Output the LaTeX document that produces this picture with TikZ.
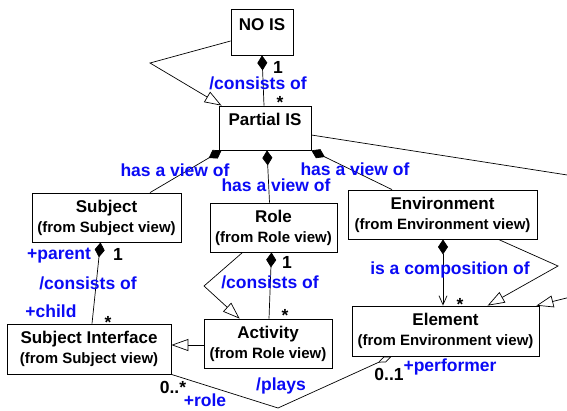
\documentclass[tikz,border=0pt]{standalone}
\usepackage{fontspec}
\setmainfont{Liberation Sans}
\usetikzlibrary{arrows.meta,calc}

\newcommand\ttlf{\fontsize{17}{20}\selectfont\bfseries}
\newcommand\subf{\fontsize{15}{20}\selectfont\bfseries}
\newcommand\lblf{\fontsize{17.5}{20}\selectfont\bfseries}
% asterisk multiplicity with a box hugging the glyph
\newcommand\mstar{\raisebox{-7.5pt}[5pt][0pt]{*}}
\definecolor{rolblue}{RGB}{10,10,245}

\begin{document}
\begin{tikzpicture}[x=1pt,y=-1pt,
  box/.style={draw, line width=0.8pt, inner sep=0pt, align=center, font=\subf},
  lbl/.style={text=rolblue, font=\lblf, inner sep=0pt},
  mult/.style={font=\lblf, inner sep=0pt},
  conn/.style={line width=0.7pt},
  comp/.style={conn, {Diamond[length=15pt,width=10pt]}-},
  compnav/.style={conn, {Diamond[length=15pt,width=10pt]}-{Straight Barb[length=9pt,width=8pt]}},
  gen/.style={conn, -{Triangle[open,length=17pt,width=12pt]}},
  agg/.style={conn, -{Diamond[open,length=15pt,width=6pt]}}]

\clip (0,0) rectangle (567,410);

% classes
\node[box, minimum width=62pt, minimum height=46pt, text height=21pt, text depth=25pt, font=\ttlf] (nois) at (262,32) {NO IS};
\node[box, minimum width=92pt, minimum height=44pt, text height=19pt, text depth=25pt, font=\ttlf] (partial) at (265,128) {Partial IS};
\node[box, minimum width=149pt, minimum height=49pt] (subject) at (106.5,217.5) {{\ttlf Subject}\\(from Subject view)};
\node[box, minimum width=127pt, minimum height=49pt] (role) at (273.5,227.5) {{\ttlf Role}\\(from Role view)};
\node[box, minimum width=189pt, minimum height=49pt] (env) at (442.5,214.5) {{\ttlf Environment}\\(from Environment view)};
\node[box, minimum width=164pt, minimum height=50pt] (subif) at (89,349) {{\ttlf Subject Interface}\\(from Subject view)};
\node[box, minimum width=128pt, minimum height=49pt] (activity) at (268,343.5) {{\ttlf Activity}\\(from Role view)};
\node[box, minimum width=187pt, minimum height=50pt] (element) at (445.5,331) {{\ttlf Element}\\(from Environment view)};

% bend points
\coordinate (g1) at (150,63);
\coordinate (g2) at (868,222);
\coordinate (g3) at (558,266);
\coordinate (g4) at (204,286);
\coordinate (g5) at (278,408);

% NO IS and Partial IS
\draw[gen] ($(nois.west)+(0,9)$) -- (g1) -- ($(partial.north west)+(3,0)$);
\draw[comp] (nois.south) -- ($(partial.north)+(-1,0)$);
\node[mult] (m1) at (278,67) {1};
\node[lbl] (l1) at (258,83) {/consists of};
\node[mult] (m2) at (280,98) {\mstar};

% views of Partial IS
\draw[comp] ($(partial.south west)+(3,0)$) -- ($(subject.north)+(43.5,0)$);
\node[lbl] (l2) at (175,170) {has a view of};
\draw[comp] ($(partial.south)+(2,0)$) -- ($(role.north)+(-4,0)$);
\node[lbl] (l3) at (276,185) {has a view of};
\draw[comp] (partial.south east) -- ($(env.north)+(-50.5,0)$);
\node[lbl] (l4) at (355,169) {has a view of};
\draw[gen] ($(partial.east)+(0,7)$) -- (g2) -- ($(element.north east)+(-3,0)$);

% Environment and Element
\draw[compnav] ($(env.south)+(0.5,0)$) -- ($(element.north)+(-2.5,0)$);
\node[lbl] (l5) at (450,270) {is a composition of};
\node[mult] (m3) at (460,300) {\mstar};
\draw[gen] ($(env.south east)+(-39,0)$) -- (g3) -- ($(element.north west)+(136,0)$);

% Subject and Subject Interface
\draw[comp] ($(subject.south)+(-6,0)$) -- ($(subif.north)+(3,0)$);
\node[lbl] (l6) at (59,256) {+parent};
\node[mult] (m4) at (118,254) {1};
\node[lbl] (l7) at (88,283) {/consists of};
\node[lbl] (l8) at (51,311) {+child};
\node[mult] (m5) at (108,318) {\mstar};

% Role and Activity
\draw[comp] ($(role.south)+(-2,0)$) -- ($(activity.north)+(1,0)$);
\node[mult] (m6) at (287,262) {1};
\node[lbl] (l9) at (270,282) {/consists of};
\node[mult] (m7) at (285,311.5) {\mstar};
\draw[gen] ($(role.south west)+(33,0)$) -- (g4) -- ($(activity.north west)+(36,0)$);
\draw[gen] ($(activity.west)+(0,1.5)$) -- ($(subif.east)+(0,-4)$);

% Subject Interface plays Element
\draw[agg] (subif.south east) -- (g5) -- ($(element.south west)+(40,0)$);
\node[mult] (m8) at (173,387) {0..*};
\node[lbl] (l10) at (205,400) {+role};
\node[lbl] (l11) at (281,386) {/plays};
\node[mult] (m9) at (389,374) {0..1};
\node[lbl] (l12) at (450,367) {+performer};
\end{tikzpicture}
\end{document}
